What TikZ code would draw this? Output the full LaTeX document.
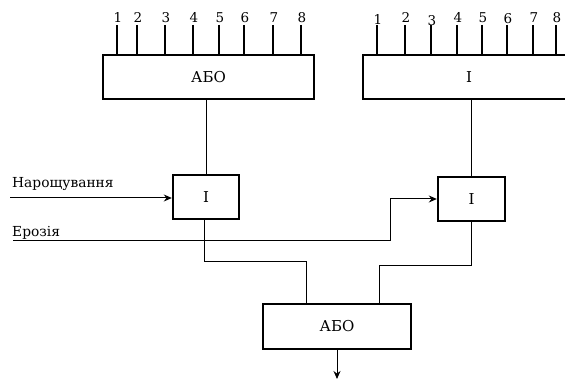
\documentclass[tikz,border=0pt]{standalone}
\usepackage{fontspec}
\setmainfont{DejaVu Serif}
\usetikzlibrary{arrows.meta}
\tikzset{
  gate/.style={draw, line width=2.4pt, inner sep=0pt, font=\fontsize{15}{17}\selectfont},
  wire/.style={line width=1pt},
  pinline/.style={line width=1.4pt},
  pinlabel/.style={inner sep=0pt, font=\fontsize{13.5}{15}\selectfont},
  sig/.style={wire, -{Stealth[length=8pt,width=7pt]}},
  inlabel/.style={inner sep=0pt, anchor=base west, font=\fontsize{13.8}{16}\selectfont}
}
\begin{document}
\begin{tikzpicture}[x=1pt,y=-1pt]
\useasboundingbox (0,0) rectangle (565,379);

% input stage: OR over eight pins, AND over eight pins
\node[gate, minimum width=211pt, minimum height=44pt] (or1) at (208.5,77) {АБО};
\node[gate, minimum width=212pt, minimum height=44pt] (and1) at (469,77) {І};

% control gates
\node[gate, minimum width=66pt, minimum height=44pt] (g1) at (206,197) {І};
\node[gate, minimum width=67pt, minimum height=44pt] (g2) at (471.5,199) {І};

% output OR
\node[gate, minimum width=148pt, minimum height=45pt] (or2) at (337,326.5) {АБО};

% pins of the left block
\foreach \px/\n in {117/1,137/2,165/3,193/4,219/5,244/6,273/7,301/8}{
  \coordinate (pa\n) at (\px,25);
  \draw[pinline] (pa\n) -- (pa\n |- or1.north);
  \node[pinlabel, anchor=south] (la\n) at (\px+1,23) {\n};
}
% pins of the right block
\foreach \px/\n/\dy in {377/1/2,405/2/0,431/3/3,457/4/0,482/5/0,507/6/1,533/7/0,556/8/0}{
  \coordinate (pb\n) at (\px,25);
  \draw[pinline] (pb\n) -- (pb\n |- and1.north);
  \node[pinlabel, anchor=south] (lb\n) at (\px+1,23+\dy) {\n};
}

% block outputs into the gates
\draw[wire] (g1.north) -- (g1.north |- or1.south);
\draw[wire] (g2.north) -- (g2.north |- and1.south);

% external control inputs
\coordinate (nin) at (10,198);
\node[inlabel] (nlab) at (12,188) {Нарощування};
\draw[sig] (nin) -- (g1.west |- nin);

\coordinate (ein) at (13,241);
\coordinate (ebend) at (390,241);
\node[inlabel] (elab) at (12,237) {Ерозія};
\draw[sig] (ein) -- (ebend) |- (g2.west);

% gate outputs into the final OR
\coordinate (c1) at (204,262);
\coordinate (c2) at (306,262);
\draw[wire] (g1.south -| c1) -- (c1) -- (c2) -- (c2 |- or2.north);
\coordinate (d1) at (471.5,266);
\coordinate (d2) at (379,266);
\draw[wire] (g2.south) -- (d1) -- (d2) -- (d2 |- or2.north);

% result
\coordinate (out) at (337,379);
\draw[sig] (or2.south) -- (out);
\end{tikzpicture}
\end{document}
